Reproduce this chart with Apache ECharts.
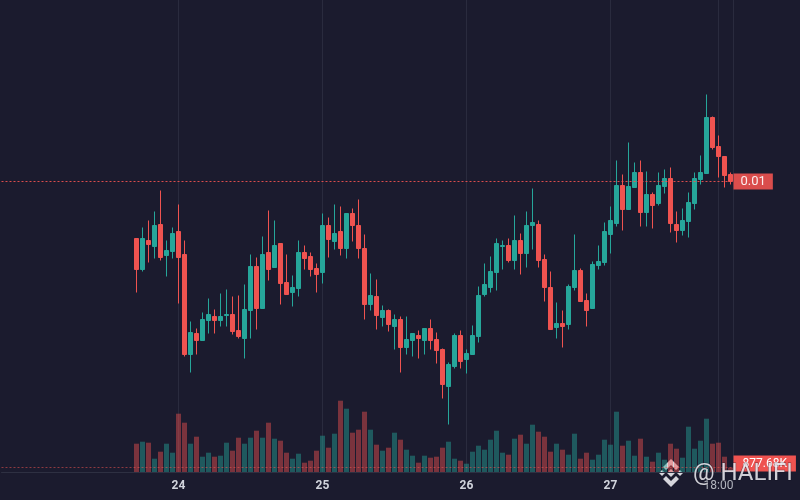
<!DOCTYPE html>
<html>
<head>
<meta charset="utf-8">
<script src="https://cdn.jsdelivr.net/npm/echarts@6/dist/echarts.min.js"></script>
<style>
html,body{margin:0;padding:0;background:#1b1b2e;}
#c{width:800px;height:500px;}
</style>
</head>
<body>
<div id="c"></div>
<script>
// ---- data (hourly candles, first candle = 23rd 17:00) ----
const START_DAY = 23;
const START_HOUR = 17;
const LEAD_SLOTS = 22; // empty hours shown left of the first candle

const opens = [
0.00943,0.00912,0.00941,0.00935,0.00957,0.00926,0.00930,0.00950,0.00927,0.00827,
0.00848,0.00841,0.00861,0.00865,0.00861,0.00866,0.00867,0.00851,0.00843,0.00871,
0.00915,0.00873,0.00929,0.00914,0.00938,0.00899,0.00889,0.00893,0.00929,0.00925,
0.00913,0.00909,0.00956,0.00940,0.00950,0.00933,0.00968,0.00956,0.00933,0.00877,
0.00885,0.00864,0.00871,0.00855,0.00862,0.00834,0.00841,0.00846,0.00841,0.00853,
0.00842,0.00832,0.00795,0.00815,0.00846,0.00822,0.00827,0.00845,0.00887,0.00894,
0.00909,0.00935,0.00936,0.00921,0.00941,0.00928,0.00956,0.00957,0.00922,0.00894,
0.00854,0.00858,0.00857,0.00894,0.00911,0.00881,0.00873,0.00916,0.00919,0.00947,
0.00958,0.00996,0.00972,0.00994,0.01009,0.00969,0.00987,0.00978,0.00995,0.01003,
0.00957,0.00951,0.00960,0.00978,0.01002,0.01008,0.01064,0.01035,0.01025,0.01007];

const closes = [
0.00912,0.00943,0.00937,0.00956,0.00924,0.00931,0.00948,0.00924,0.00827,0.00849,
0.00841,0.00862,0.00867,0.00861,0.00865,0.00867,0.00850,0.00845,0.00872,0.00915,
0.00873,0.00927,0.00912,0.00936,0.00898,0.00887,0.00894,0.00929,0.00923,0.00912,
0.00907,0.00956,0.00942,0.00948,0.00933,0.00968,0.00956,0.00933,0.00877,0.00886,
0.00866,0.00871,0.00857,0.00862,0.00834,0.00842,0.00848,0.00843,0.00853,0.00841,
0.00831,0.00797,0.00817,0.00846,0.00820,0.00828,0.00846,0.00886,0.00897,0.00910,
0.00938,0.00936,0.00921,0.00941,0.00928,0.00956,0.00959,0.00921,0.00894,0.00852,
0.00858,0.00855,0.00895,0.00911,0.00880,0.00871,0.00917,0.00920,0.00950,0.00961,
0.00996,0.00972,0.00995,0.01009,0.00969,0.00987,0.00976,0.00996,0.01003,0.00958,
0.00951,0.00961,0.00979,0.01003,0.01009,0.01064,0.01034,0.01025,0.01006,0.01000];

const lows = [
0.00889,0.00910,0.00919,0.00923,0.00921,0.00905,0.00923,0.00878,0.00825,0.00809,
0.00827,0.00841,0.00848,0.00848,0.00855,0.00855,0.00847,0.00843,0.00823,0.00843,
0.00852,0.00873,0.00901,0.00914,0.00877,0.00887,0.00875,0.00885,0.00912,0.00905,
0.00889,0.00898,0.00924,0.00932,0.00926,0.00923,0.00940,0.00923,0.00862,0.00871,
0.00852,0.00855,0.00850,0.00832,0.00809,0.00827,0.00825,0.00823,0.00827,0.00832,
0.00818,0.00783,0.00757,0.00813,0.00813,0.00808,0.00827,0.00839,0.00885,0.00889,
0.00891,0.00912,0.00919,0.00912,0.00907,0.00914,0.00932,0.00914,0.00880,0.00852,
0.00843,0.00834,0.00852,0.00891,0.00880,0.00855,0.00873,0.00912,0.00916,0.00928,
0.00955,0.00951,0.00972,0.00994,0.00955,0.00955,0.00953,0.00976,0.00988,0.00949,
0.00939,0.00946,0.00944,0.00972,0.00997,0.01008,0.01032,0.01004,0.00994,0.00997];

const highs = [
0.00943,0.00954,0.00961,0.00970,0.00991,0.00941,0.00954,0.00977,0.00941,0.00860,
0.00853,0.00869,0.00883,0.00872,0.00888,0.00892,0.00885,0.00886,0.00897,0.00927,
0.00924,0.00945,0.00971,0.00961,0.00938,0.00927,0.00906,0.00941,0.00936,0.00929,
0.00918,0.00968,0.00964,0.00977,0.00975,0.00968,0.00973,0.00982,0.00947,0.00908,
0.00902,0.00876,0.00872,0.00867,0.00865,0.00865,0.00848,0.00851,0.00853,0.00862,
0.00849,0.00833,0.00819,0.00848,0.00851,0.00832,0.00856,0.00895,0.00918,0.00925,
0.00943,0.00941,0.00943,0.00966,0.00948,0.00970,0.00993,0.00961,0.00927,0.00910,
0.00879,0.00871,0.00897,0.00947,0.00913,0.00888,0.00920,0.00936,0.00959,0.00975,
0.01021,0.01007,0.01039,0.01019,0.01021,0.01010,0.00989,0.01009,0.01012,0.01014,
0.00970,0.00973,0.00989,0.01009,0.01026,0.01087,0.01065,0.01046,0.01025,0.01009];

const volumes = [
5660000,6060000,5860000,2660000,4060000,5660000,3860000,11660000,9860000,5660000,
7060000,3060000,3860000,3060000,3260000,5860000,4260000,6860000,5660000,6860000,
8260000,6860000,9860000,6660000,6260000,3860000,2660000,3660000,1860000,2260000,
4260000,7260000,4860000,7660000,14260000,12660000,7860000,8460000,12060000,8460000,
5460000,4260000,4860000,7860000,6460000,4460000,3260000,1860000,3260000,2860000,
3060000,4860000,6060000,2660000,2260000,1660000,4060000,5260000,4460000,6460000,
8260000,3860000,3460000,6660000,7460000,5660000,9460000,8060000,7060000,4060000,
5660000,4460000,3460000,7660000,2660000,3860000,2460000,3460000,6460000,5460000,
12060000,5260000,6260000,3260000,6660000,3060000,2060000,3860000,2460000,5660000,
4660000,2860000,9060000,4660000,6260000,10660000,5660000,5860000,3060000,877680];

const tickCategories = ['24 00:00','25 00:00','26 00:00','27 00:00','27 18:00'];
const tickLabels     = ['24','25','26','27','18:00'];

// ---- build ----
const N = opens.length;
const categories = [];
for (let j = 0; j < LEAD_SLOTS + N; j++) {
  const h = START_HOUR + (j - LEAD_SLOTS);
  const d = START_DAY + Math.floor(h / 24);
  const hh = ((h % 24) + 24) % 24;
  categories.push(d + ' ' + String(hh).padStart(2, '0') + ':00');
}
const UP = '#26a69a', DOWN = '#ef5350';
const UP_VOL = 'rgba(38,166,154,0.45)', DOWN_VOL = 'rgba(239,83,80,0.45)';
const GRIDLINE = '#2a2b3e';

const candleData = opens.map((o, i) => [LEAD_SLOTS + i, o, closes[i], lows[i], highs[i]]);
const volData = volumes.map((v, i) => ({
  value: [LEAD_SLOTS + i, v],
  itemStyle: { color: closes[i] >= opens[i] ? UP_VOL : DOWN_VOL }
}));

const chart = echarts.init(document.getElementById('c'));
const option = {
  backgroundColor: '#1b1b2e',
  animation: false,
  grid: [
    { left: 1.5, right: 66.5, top: 0, bottom: 28 },
    { left: 1.5, right: 66.5, top: 380, bottom: 28 }
  ],
  xAxis: [
    { type: 'category', gridIndex: 0, data: categories, boundaryGap: true,
      axisLine: { show: false }, axisTick: { show: false }, axisLabel: { show: false }, splitLine: { show: false } },
    { type: 'category', gridIndex: 1, data: categories, boundaryGap: true,
      axisLine: { show: true, lineStyle: { color: '#2e3042', width: 1 } },
      axisTick: { show: false }, splitLine: { show: false },
      axisLabel: {
        show: true, margin: 8,
        interval: (idx, val) => tickCategories.indexOf(val) >= 0,
        formatter: (val) => {
          const k = tickCategories.indexOf(val);
          if (k < 0) return '';
          return tickLabels[k].indexOf(':') >= 0 ? '{t|' + tickLabels[k] + '}' : '{d|' + tickLabels[k] + '}';
        },
        rich: {
          d: { color: '#d1d4dc', fontSize: 12, fontWeight: 'bold', fontFamily: 'Roboto' },
          t: { color: '#b2b5be', fontSize: 12, fontFamily: 'Roboto' }
        }
      } }
  ],
  yAxis: [
    { type: 'value', gridIndex: 0, position: 'right', min: 0.007095, max: 0.011815, scale: true,
      axisLine: { show: true, lineStyle: { color: GRIDLINE, width: 1 } },
      axisTick: { show: false }, axisLabel: { show: false }, splitLine: { show: false } },
    { type: 'value', gridIndex: 1, min: 0, max: 18400000,
      axisLine: { show: false }, axisTick: { show: false }, axisLabel: { show: false }, splitLine: { show: false } }
  ],
  series: [
    { type: 'line', xAxisIndex: 0, yAxisIndex: 0, data: [], silent: true,
      markLine: {
        silent: true, z: 0, symbol: ['none', 'none'], animation: false,
        label: { show: false },
        lineStyle: { color: GRIDLINE, type: 'solid', width: 1 },
        data: tickCategories.map(c => ({ xAxis: c }))
      } },
    { type: 'candlestick', xAxisIndex: 0, yAxisIndex: 0, z: 3,
      data: candleData, encode: { x: 0, y: [1, 2, 3, 4] },
      barWidth: 4,
      itemStyle: { color: UP, color0: DOWN, borderColor: UP, borderColor0: DOWN, borderWidth: 1 },
      markLine: {
        silent: true, z: 6, symbol: ['none', 'none'], animation: false,
        lineStyle: { color: DOWN, type: [2, 2], width: 1, opacity: 0.9 },
        label: {
          show: true, position: 'end', distance: 0,
          formatter: (p) => p.value.toFixed(2),
          backgroundColor: DOWN, color: '#ffffff', fontSize: 13, fontFamily: 'Roboto',
          padding: [2, 7, 1, 7]
        },
        data: [{ yAxis: closes[N - 1] }]
      } },
    { type: 'bar', xAxisIndex: 1, yAxisIndex: 1, z: 2,
      data: volData, encode: { x: 0, y: 1 }, barWidth: 5,
      markLine: {
        silent: true, z: 6, symbol: ['none', 'none'], animation: false,
        lineStyle: { color: 'rgba(239,83,80,0.55)', type: [2, 2], width: 1 },
        label: {
          show: true, position: 'end', distance: 0, offset: [0, -4],
          formatter: (p) => (p.value / 1000).toFixed(2) + 'K',
          backgroundColor: DOWN, color: '#ffffff', fontSize: 12, fontFamily: 'Roboto',
          padding: [2, 9, 2, 9]
        },
        data: [{ yAxis: volumes[N - 1] }]
      } }
  ],
  graphic: [
    { type: 'group', x: 671, y: 473, z: 100, silent: true,
      children: [
        { type: 'polygon', shape: { points: [[0,-14],[8,-6],[5,-3],[0,-8],[-5,-3],[-8,-6]] }, style: { fill: 'rgba(240,240,245,0.88)' } },
        { type: 'polygon', shape: { points: [[0,14],[8,6],[5,3],[0,8],[-5,3],[-8,6]] }, style: { fill: 'rgba(240,240,245,0.88)' } },
        { type: 'polygon', shape: { points: [[0,-4],[4,0],[0,4],[-4,0]] }, style: { fill: 'rgba(240,240,245,0.88)' } },
        { type: 'polygon', shape: { points: [[-9,-3],[-6,0],[-9,3],[-12,0]] }, style: { fill: 'rgba(240,240,245,0.88)' } },
        { type: 'polygon', shape: { points: [[9,-3],[12,0],[9,3],[6,0]] }, style: { fill: 'rgba(240,240,245,0.88)' } }
      ] },
    { type: 'text', x: 693, y: 474, z: 100, silent: true,
      style: { text: '@ HALIFI', fontSize: 24, fontFamily: 'Roboto', fill: 'rgba(240,240,245,0.85)',
        stroke: 'rgba(20,20,35,0.5)', lineWidth: 1, verticalAlign: 'middle', align: 'left' } }
  ]
};
chart.setOption(option);
</script>
</body>
</html>
